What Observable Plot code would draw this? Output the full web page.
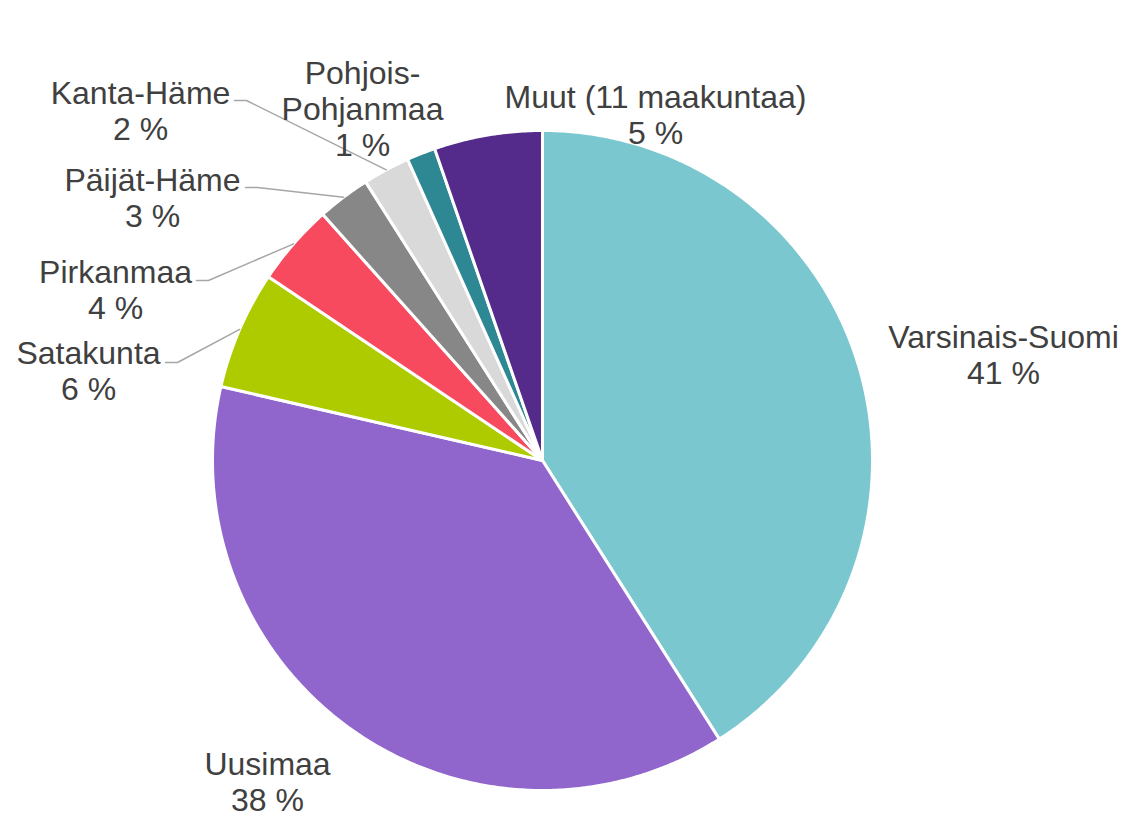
<!DOCTYPE html>
<html>
<head>
<meta charset="utf-8">
<script src="https://cdn.jsdelivr.net/npm/d3@7"></script>
<script src="https://cdn.jsdelivr.net/npm/@observablehq/plot@0.6"></script>
<style>
  html, body { margin: 0; padding: 0; background: #ffffff; }
  #chart { width: 1123px; height: 817px; }
</style>
</head>
<body>
<div id="chart"></div>
<script>
// ---- Data ----
const regions = ["Varsinais-Suomi", "Uusimaa", "Satakunta", "Pirkanmaa", "Päijät-Häme", "Kanta-Häme", "Pohjois-Pohjanmaa", "Muut (11 maakuntaa)"];
const shares = [41.0, 37.6, 5.8, 4.0, 2.6, 2.3, 1.4, 5.3];
const sliceColors = ["#7BC7D0", "#9166CC", "#AECB00", "#F74A5F", "#878787", "#D9D9D9", "#2E8894", "#542B8A"];

// ---- Layout (pixels) ----
const CX = 542, CY = 460, R = 330;
const labelCenters = [[1003, 354], [267, 781], [88, 370], [115, 289], [152, 197], [140, 110], [362, 108], [655, 114]];
const leaderStarts = {"Satakunta": [165, 362], "Pirkanmaa": [196, 280], "Päijät-Häme": [245, 187], "Kanta-Häme": [234, 100]};
const labelWraps = {"Pohjois-Pohjanmaa": "Pohjois-\nPohjanmaa"};

const toU = px => (px - CX) / R;
const toV = py => (CY - py) / R;

const total = d3.sum(shares);
const data = regions.map((name, i) => ({name, value: shares[i], color: sliceColors[i]}));
const arcs = d3.pie().sort(null).value(d => d.value).startAngle(0).endAngle(2 * Math.PI)(data);

// slice polygons
const slicePts = [];
for (const a of arcs) {
  const n = Math.max(4, Math.ceil((a.endAngle - a.startAngle) / (Math.PI / 360)));
  slicePts.push({name: a.data.name, x: 0, y: 0});
  for (let k = 0; k <= n; k++) {
    const t = a.startAngle + (a.endAngle - a.startAngle) * k / n;
    slicePts.push({name: a.data.name, x: Math.sin(t), y: Math.cos(t)});
  }
  slicePts.push({name: a.data.name, x: 0, y: 0});
}

// labels
const labels = arcs.map((a, i) => {
  const nm = a.data.name;
  const pct = Math.round(a.data.value / total * 100);
  return {
    x: toU(labelCenters[i][0]),
    y: toV(labelCenters[i][1]),
    text: (labelWraps[nm] || nm) + "\n" + pct + " %"
  };
});

// leader lines
const leaderPts = [];
for (const a of arcs) {
  const s = leaderStarts[a.data.name];
  if (!s) continue;
  const mid = (a.startAngle + a.endAngle) / 2;
  leaderPts.push({name: a.data.name, x: toU(s[0]), y: toV(s[1])});
  leaderPts.push({name: a.data.name, x: toU(s[0] + 12), y: toV(s[1])});
  leaderPts.push({name: a.data.name, x: Math.sin(mid), y: Math.cos(mid)});
}

const chart = Plot.plot({
  width: 1123,
  height: 817,
  margin: 0,
  x: {domain: [-1, 1], range: [CX - R, CX + R], axis: null},
  y: {domain: [-1, 1], range: [CY + R, CY - R], axis: null},
  color: {domain: regions, range: sliceColors},
  style: {fontFamily: "'Liberation Sans', Arial, sans-serif", background: "#ffffff"},
  marks: [
    Plot.line(slicePts, {x: "x", y: "y", z: "name", fill: "name", stroke: "#ffffff", strokeWidth: 3, strokeLinejoin: "round", curve: "linear"}),
    Plot.line(leaderPts, {x: "x", y: "y", z: "name", stroke: "#A6A6A6", strokeWidth: 1.5, curve: "linear"}),
    Plot.text(labels, {x: "x", y: "y", text: "text", fontSize: 32, fill: "#404040", lineHeight: 1.12, textAnchor: "middle", lineAnchor: "middle"})
  ]
});
document.getElementById("chart").appendChild(chart);
</script>
</body>
</html>
